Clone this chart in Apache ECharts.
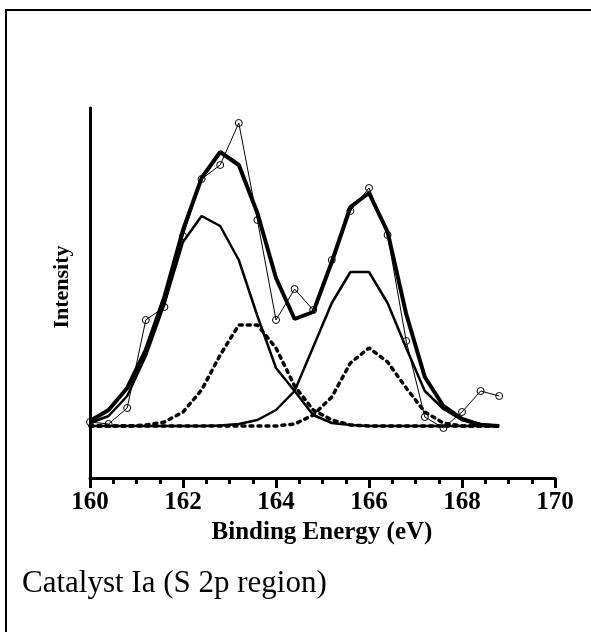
<!DOCTYPE html>
<html><head><meta charset="utf-8">
<script src="https://cdn.jsdelivr.net/npm/echarts@6/dist/echarts.min.js"></script>
<style>html,body{margin:0;padding:0;background:#fff}#c{width:591px;height:632px}</style>
</head><body><div id="c"></div>
<script>
var energy = [160.0,160.4,160.8,161.2,161.6,162.0,162.4,162.8,163.2,163.6,164.0,164.4,164.8,165.2,165.6,166.0,166.4,166.8,167.2,167.6,168.0,168.4,168.8];
var measured = [4,2,18,106,119,190,247,261,303,206,106,137,116,166,215,238,191,85,9,-2,14,35,30];
var envelope = [5,16,38,76,129,196,248,274,261,213,148,107,114,164,219,233,194,112,49,20,7,1,0];
var peak1 = [3,10,30,70,122,184,210,200,166,110,58,35,11,3,1,0,0,0,0,0,0,0,0];
var peak2 = [0,0,0,0,0,0,0,0.5,2,6,16,35,79,123,154,154,123,78,35,17,6,2,0];
var dash1 = [0,0,0,1,4,14,36,71,101,101,78,40,16,6,1,0,0,0,0,0,0,0,0];
var dash2 = [0,0,0,0,0,0,0,0,0,0,0,2,11,29,63,78,64,38,14,3,0,0,0];
var xTicks = [160,162,164,166,168,170];

function pairs(arr){ return energy.map(function(x,i){ return [x, arr[i]]; }); }

var chart = echarts.init(document.getElementById('c'), null, {renderer:'canvas'});
var serif = '"Liberation Serif","Times New Roman",serif';
chart.setOption({
  animation:false,
  backgroundColor:'#fff',
  grid:{left:90,right:36,top:108,bottom:154,containLabel:false},
  xAxis:{type:'value',min:xTicks[0],max:xTicks[xTicks.length-1],interval:2,
    axisLine:{show:true,onZero:false,lineStyle:{color:'#000',width:3}},
    axisTick:{show:true,length:10,lineStyle:{color:'#000',width:3}},
    minorTick:{show:true,splitNumber:4,length:6,lineStyle:{color:'#000',width:3}},
    splitLine:{show:false},
    axisLabel:{color:'#000',fontFamily:serif,fontWeight:'bold',fontSize:25,margin:12}
  },
  yAxis:{type:'value',min:-52,max:318,
    axisLine:{show:true,onZero:false,lineStyle:{color:'#000',width:3}},
    axisTick:{show:false},axisLabel:{show:false},splitLine:{show:false}
  },
  series:[
    {type:'line',data:pairs(dash1),symbol:'none',lineStyle:{color:'#000',width:3.5,type:[3,5],cap:'round'},z:2},
    {type:'line',data:pairs(dash2),symbol:'none',lineStyle:{color:'#000',width:3.5,type:[3,5],cap:'round'},z:2},
    {type:'line',data:pairs(peak1),symbol:'none',lineStyle:{color:'#000',width:2.5},z:3},
    {type:'line',data:pairs(peak2),symbol:'none',lineStyle:{color:'#000',width:2.5},z:3},
    {type:'line',data:pairs(envelope),symbol:'none',lineStyle:{color:'#000',width:4},z:4},
    {type:'line',data:pairs(measured),symbol:'circle',symbolSize:7,
      itemStyle:{color:'rgba(0,0,0,0)',borderColor:'#000',borderWidth:1},
      lineStyle:{color:'#000',width:1},z:5}
  ],
  graphic:[
    {type:'rect',shape:{x:6,y:10,width:620,height:660},style:{fill:'none',stroke:'#000',lineWidth:2},silent:true},
    {type:'text',x:62,y:287,rotation:Math.PI/2,style:{text:'Intensity',font:'bold 22px '+serif,fill:'#000',textAlign:'center',textVerticalAlign:'middle'}},
    {type:'text',x:322,y:533,style:{text:'Binding Energy (eV)',font:'bold 25px '+serif,fill:'#000',textAlign:'center',textVerticalAlign:'middle'}},
    {type:'text',x:22,y:584,style:{text:'Catalyst Ia (S 2p region)',font:'31px '+serif,fill:'#000',textAlign:'left',textVerticalAlign:'middle'}}
  ]
});
</script></body></html>
